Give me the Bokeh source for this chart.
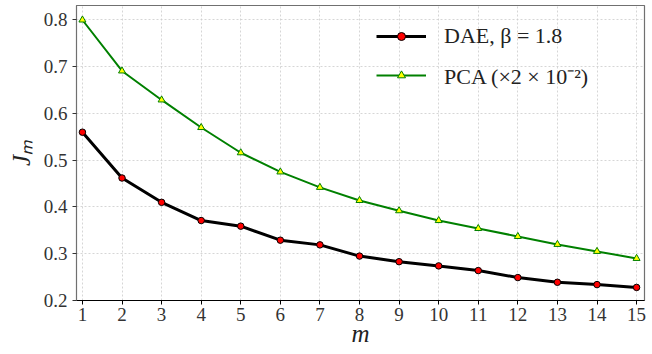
from bokeh.plotting import figure
from bokeh.models import FixedTicker, Legend, LegendItem, Range1d
from bokeh.embed import file_html
from bokeh.resources import INLINE

m = list(range(1, 16))
dae = [0.560, 0.462, 0.410, 0.371, 0.359, 0.329, 0.319, 0.295, 0.283, 0.274,
       0.264, 0.249, 0.239, 0.234, 0.228]
pca = [0.800, 0.691, 0.629, 0.570, 0.516, 0.475, 0.442, 0.414, 0.392, 0.371,
       0.354, 0.337, 0.320, 0.305, 0.290]
x_ticks = list(range(1, 16))
y_ticks = [0.2, 0.3, 0.4, 0.5, 0.6, 0.7, 0.8]
dae_label = "DAE, β = 1.8"
pca_label = "PCA (×2 × 10⁻²)"

FONT = "Liberation Serif"

p = figure(width=652, height=354, output_backend="svg", toolbar_location=None,
           x_range=Range1d(0.85, 15.2), y_range=Range1d(0.2, 0.831),
           min_border_left=76, min_border_right=8, min_border_top=5,
           min_border_bottom=54, background_fill_color="white",
           border_fill_color="white")

p.outline_line_color = "#707070"
p.outline_line_width = 1.2

# grid
for g in (p.xgrid, p.ygrid):
    g.grid_line_color = "#cccccc"
    g.grid_line_dash = "2 2"
    g.grid_line_width = 0.8
p.xgrid.ticker = FixedTicker(ticks=x_ticks)
p.ygrid.ticker = FixedTicker(ticks=y_ticks)

# axes
p.xaxis.ticker = FixedTicker(ticks=x_ticks)
p.yaxis.ticker = FixedTicker(ticks=y_ticks)
for ax in (p.xaxis[0], p.yaxis[0]):
    ax.major_tick_in = 0
    ax.major_tick_out = 4
    ax.minor_tick_line_color = None
    ax.major_label_text_font = FONT
    ax.major_label_text_font_size = "19px"
    ax.major_label_text_color = "#333333"
    ax.axis_label_text_font = FONT
    ax.axis_label_text_font_style = "italic"
    ax.axis_label_text_font_size = "25px"
    ax.axis_label_text_color = "#222222"
p.xaxis.axis_line_color = "black"
p.xaxis.major_tick_line_color = "black"
p.yaxis.axis_line_color = "#707070"
p.yaxis.major_tick_line_color = "#333333"
p.xaxis.major_label_standoff = 3
p.yaxis.major_label_standoff = 5
p.xaxis.axis_label = "m"
p.yaxis.axis_label = "Jₘ"
p.xaxis.axis_label_standoff = -4
p.yaxis.axis_label_standoff = 6

# data
l1 = p.line(m, dae, line_color="black", line_width=3)
s1 = p.scatter(m, dae, marker="circle", size=6.5, fill_color="red",
               line_color="black", line_width=1)
l2 = p.line(m, pca, line_color="#008000", line_width=2)
s2 = p.scatter(m, pca, marker="triangle", size=7, fill_color="yellow",
               line_color="#008000", line_width=1)

legend = Legend(items=[LegendItem(label=dae_label, renderers=[l1, s1]),
                       LegendItem(label=pca_label, renderers=[l2, s2])],
                location=(300, 210), padding=8, spacing=11,
                glyph_width=50, glyph_height=20, label_height=20,
                label_standoff=18, background_fill_alpha=0,
                border_line_color=None, label_text_font=FONT,
                label_text_font_size="22px", label_text_color="#222222")
p.add_layout(legend, "center")

open("out.html", "w").write(file_html(p, INLINE))
